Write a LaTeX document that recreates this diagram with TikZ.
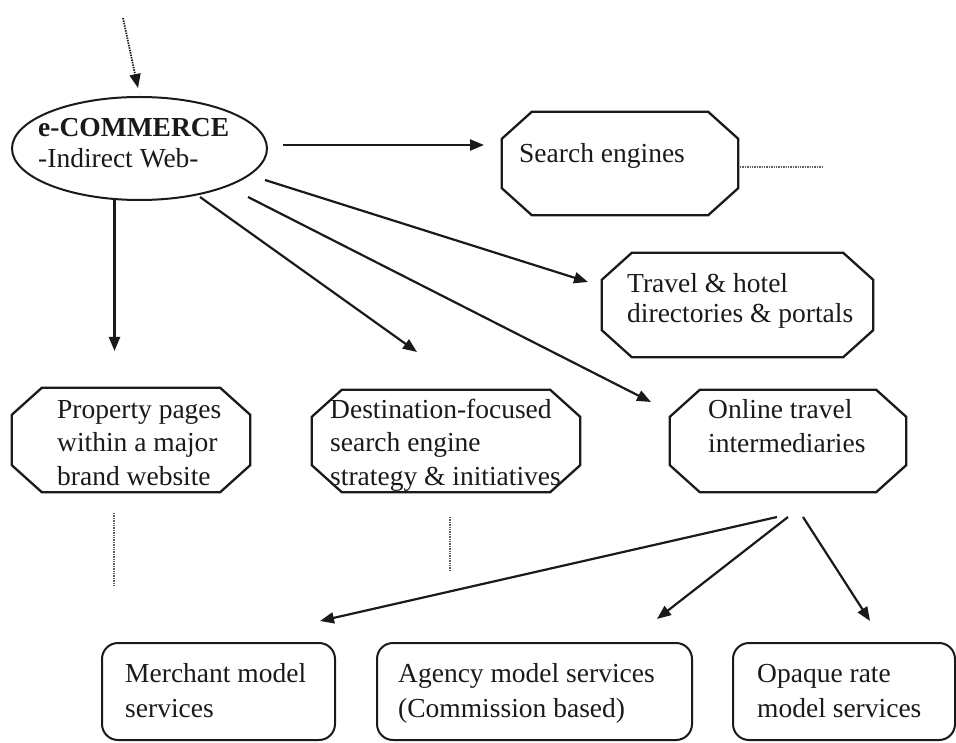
\documentclass[tikz,border=0pt]{standalone}
\usepackage{fontspec}
\setmainfont{Liberation Serif}
\usetikzlibrary{shapes.geometric,arrows.meta}
% a left-aligned block of lines whose baseline is that of its first line
\newcommand\txtlines[2]{\vtop{\baselineskip=#1\relax #2}}
% octagonal outline drawn around a named rectangular node
\newcommand\octoframe[1]{%
  \draw[octoline] ([xshift=30pt]#1.north west) -- ([xshift=-30pt]#1.north east)
    -- ([yshift=-27pt]#1.north east) -- ([yshift=27pt]#1.south east)
    -- ([xshift=-30pt]#1.south east) -- ([xshift=30pt]#1.south west)
    -- ([yshift=27pt]#1.south west) -- ([yshift=-27pt]#1.north west) -- cycle;}
\definecolor{ink}{HTML}{1A1A1A}
\definecolor{dotgray}{HTML}{606060}
\begin{document}
\begin{tikzpicture}[x=1pt,y=-1pt,
  every node/.style={inner sep=0pt, text=ink},
  txt/.style={anchor=base west, font=\fontsize{27.5}{33}\selectfont},
  octo/.style={rectangle},
  octoline/.style={draw=ink, line width=2.3pt, line join=miter},
  rbox/.style={rectangle, rounded corners=16pt, draw=ink, line width=2pt,
    minimum height=97pt},
  arr/.style={draw=ink, line width=2.2pt, -{Triangle[length=14pt,width=11pt]}},
  dotline/.style={draw=dotgray, line width=1.5pt, dash pattern=on 1.3pt off 1.1pt},
]
\fill[white] (0,0) rectangle (956,743);
\useasboundingbox (0,0) rectangle (956,743);

% central ellipse
\node[ellipse, draw=ink, line width=2pt, minimum width=255pt, minimum height=103pt]
  (eco) at (139.5,148.5) {};
\node[txt] (eco-t) at (38,137)
  {\txtlines{31pt}{\hbox{\bfseries e-COMMERCE}\hbox{-Indirect Web-}}};

% octagonal boxes
\node[octo, minimum width=236pt, minimum height=103pt] (search) at (620,163.5) {};
\node[octo, minimum width=271pt, minimum height=104pt] (travel) at (737.5,305) {};
\node[octo, minimum width=238pt, minimum height=104pt] (prop) at (131,440) {};
\node[octo, minimum width=268pt, minimum height=102pt] (dest) at (446,441) {};
\node[octo, minimum width=236pt, minimum height=102pt] (online) at (788,441) {};
\octoframe{search}
\octoframe{travel}
\octoframe{prop}
\octoframe{dest}
\octoframe{online}

\node[txt] (search-t) at (519,163) {Search engines};
\node[txt] (travel-t) at (627,293)
  {\txtlines{30pt}{\hbox{Travel \& hotel}\hbox{directories \& portals}}};
\node[txt] (prop-t) at (57,418)
  {\txtlines{33.5pt}{\hbox{Property pages}\hbox{within a major}\hbox{brand website}}};
\node[txt] (dest-t) at (330,418)
  {\txtlines{33.5pt}{\hbox{Destination-focused}\hbox{search engine}\hbox{strategy \& initiatives}}};
\node[txt] (online-t) at (708,418)
  {\txtlines{34pt}{\hbox{Online travel}\hbox{intermediaries}}};

% rounded service boxes
\node[rbox, minimum width=233pt] (merch) at (218.5,691.5) {};
\node[rbox, minimum width=315pt] (agency) at (534.5,691.5) {};
\node[rbox, minimum width=222pt] (opaque) at (844,691.5) {};

\node[txt] (merch-t) at (125,682)
  {\txtlines{35pt}{\hbox{Merchant model}\hbox{services}}};
\node[txt] (agency-t) at (398,682)
  {\txtlines{35pt}{\hbox{Agency model services}\hbox{(Commission based)}}};
\node[txt] (opaque-t) at (757,682)
  {\txtlines{35pt}{\hbox{Opaque rate}\hbox{model services}}};

% connector ends
\coordinate (in-top) at (123,18);
\coordinate (in-eco) at (138,88);
\coordinate (e-s) at (283,145);   \coordinate (s-in) at (484,145);
\coordinate (e-t) at (265,180);   \coordinate (t-in) at (588,282);
\coordinate (e-o) at (248,197);   \coordinate (o-in) at (651,402);
\coordinate (e-d) at (200,197);   \coordinate (d-in) at (417,352);
\coordinate (e-p) at (114.5,199.5); \coordinate (p-in) at (114.5,351);
\coordinate (o-m) at (777,517);   \coordinate (m-in) at (320,621);
\coordinate (o-a) at (788,517);   \coordinate (a-in) at (657,619);
\coordinate (o-q) at (803,517);   \coordinate (q-in) at (870,621);
\coordinate (s-r0) at (740,167);  \coordinate (s-r1) at (822,167);
\coordinate (p-d0) at (114,513);  \coordinate (p-d1) at (114,587);
\coordinate (d-d0) at (450,517);  \coordinate (d-d1) at (450,570);

% dotted lead-in and dotted stubs
\draw[arr, line width=1.8pt, dash pattern=on 1.4pt off 1.1pt] (in-top) -- (in-eco);
\draw[dotline] (s-r0) -- (s-r1);
\draw[dotline] (p-d0) -- (p-d1);
\draw[dotline] (d-d0) -- (d-d1);

% arrows out of the ellipse
\draw[arr] (e-s) -- (s-in);
\draw[arr] (e-t) -- (t-in);
\draw[arr] (e-o) -- (o-in);
\draw[arr] (e-d) -- (d-in);
\draw[arr] (e-p) -- (p-in);

% arrows to the service models
\draw[arr] (o-m) -- (m-in);
\draw[arr] (o-a) -- (a-in);
\draw[arr] (o-q) -- (q-in);
\end{tikzpicture}
\end{document}
